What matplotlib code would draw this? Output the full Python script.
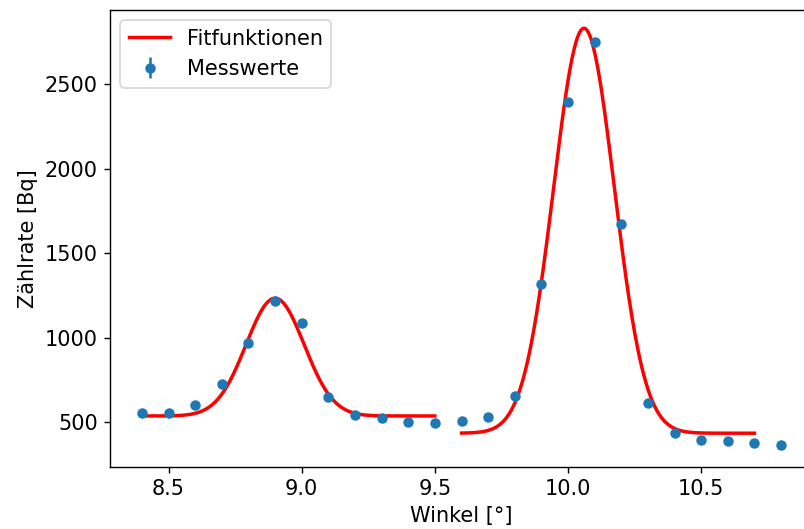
import numpy as np
import matplotlib
matplotlib.use('Agg')
import matplotlib.pyplot as plt

# Messwerte
winkel = [8.4, 8.5, 8.6, 8.7, 8.8, 8.9, 9.0, 9.1, 9.2, 9.3, 9.4, 9.5,
          9.6, 9.7, 9.8, 9.9, 10.0, 10.1, 10.2, 10.3, 10.4, 10.5, 10.6, 10.7, 10.8]
rate = [557, 553, 601, 725, 967, 1220, 1086, 647, 543, 526, 504, 498,
        508, 528, 653, 1319, 2397, 2749, 1675, 613, 439, 393, 387, 380, 368]
rate_err = [8, 8, 8, 9, 10, 12, 11, 8, 8, 8, 7, 7,
            7, 8, 8, 12, 16, 17, 13, 8, 7, 6, 6, 6, 6]

# Fitparameter (Gauss + Untergrund): Amplitude, Mitte, Breite, Offset, Bereich
fit1_params = [697, 8.90, 0.109, 537]
fit1_range = [8.4, 9.5]
fit2_params = [2397, 10.06, 0.114, 435]
fit2_range = [9.6, 10.7]


def gauss(x, a, mu, sigma, c):
  return a * np.exp(-(x - mu)**2 / (2 * sigma**2)) + c


plt.rcParams['font.size'] = 12
fig = plt.figure(figsize=(804/125, 529/125), dpi=125)
ax = fig.add_axes([110/804, (529-467)/529, (813-110)/804, (467-10)/529])

x1 = np.linspace(fit1_range[0], fit1_range[1], 300)
x2 = np.linspace(fit2_range[0], fit2_range[1], 300)
ax.plot(x1, gauss(x1, *fit1_params), color='red', linewidth=2, label='Fitfunktionen')
ax.plot(x2, gauss(x2, *fit2_params), color='red', linewidth=2)
ax.errorbar(winkel, rate, yerr=rate_err, fmt='o', markersize=5, color='tab:blue', label='Messwerte')

ax.set_xlim(8.28, 10.92)
ax.set_ylim(235, 2940)
ax.set_xlabel('Winkel [°]')
ax.set_ylabel('Zählrate [Bq]')
ax.legend(loc='upper left')

fig.savefig('out.png', dpi=125)
